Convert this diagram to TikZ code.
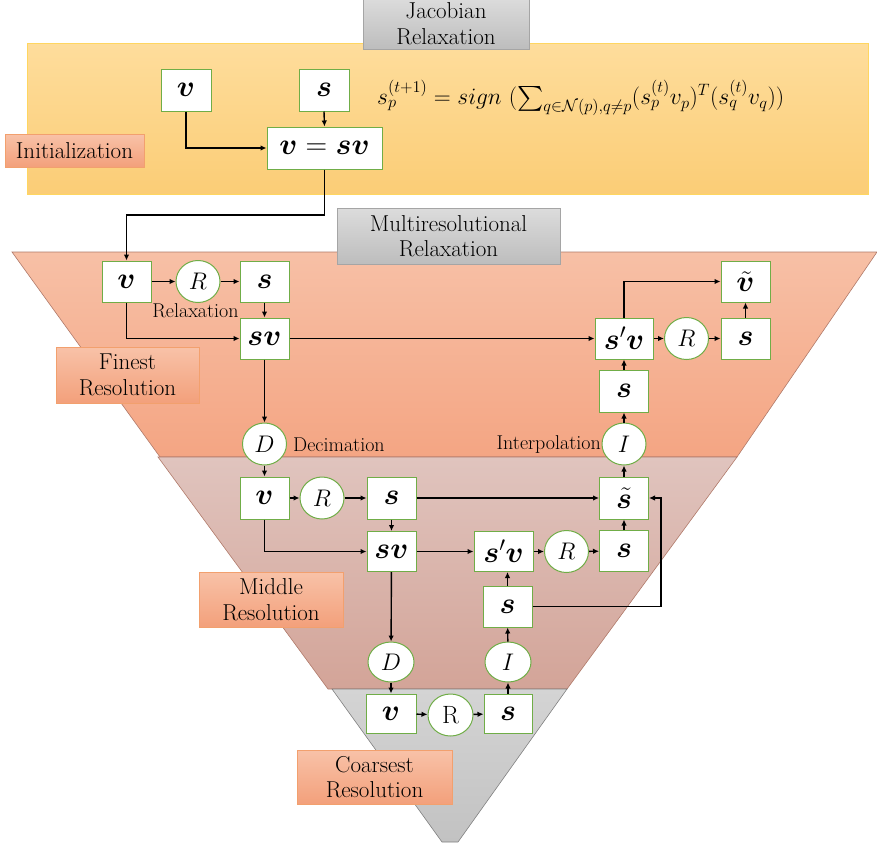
\RequirePackage{fix-cm}
\documentclass[tikz,border=0pt]{standalone}
\usepackage{amsmath}
\usepackage{bm}
\usepackage{fontspec}
\usetikzlibrary{arrows.meta,calc,shapes.geometric}

\definecolor{boxgreen}{HTML}{70AD47}
\definecolor{yeltop}{HTML}{FEDD9C}
\definecolor{yelbot}{HTML}{FBCD76}
\definecolor{yelline}{HTML}{FFD660}
\definecolor{grytop}{HTML}{DCDCDC}
\definecolor{grybot}{HTML}{BDBDBD}
\definecolor{gryline}{HTML}{A5A5A5}
\definecolor{labtop}{HTML}{F8C2A8}
\definecolor{labbot}{HTML}{F3A07B}
\definecolor{labline}{HTML}{F2A06E}
\definecolor{fintop}{HTML}{F7C0A6}
\definecolor{finbot}{HTML}{F4A583}
\definecolor{midtop}{HTML}{E0C4BE}
\definecolor{midbot}{HTML}{D3A498}
\definecolor{coatop}{HTML}{D4D4D4}
\definecolor{coabot}{HTML}{C2C2C2}
\definecolor{layline}{HTML}{B07A6A}

\newcommand{\labfont}{\fontsize{23}{25.5}\selectfont}
\newcommand{\smallfont}{\fontsize{20}{22}\selectfont}
\newcommand{\boxfont}{\fontsize{30}{32}\selectfont}
\newcommand{\circfont}{\fontsize{24}{26}\selectfont}

\begin{document}
\begin{tikzpicture}[x=1pt,y=-1pt,
  opbox/.style={rectangle,draw=boxgreen,fill=white,line width=1pt,inner sep=0pt,
    minimum width=49pt,minimum height=41pt,font=\boxfont},
  opcirc/.style={ellipse,draw=boxgreen,fill=white,line width=1pt,inner sep=0pt,
    minimum width=44pt,minimum height=42pt,font=\circfont},
  tagbox/.style={rectangle,draw=labline,line width=0.8pt,top color=labtop,bottom color=labbot,
    inner sep=0pt,align=center,font=\labfont},
  titlebox/.style={rectangle,draw=gryline,line width=0.8pt,top color=grytop,bottom color=grybot,
    inner sep=0pt,align=center,font=\labfont},
  note/.style={inner sep=0pt,font=\smallfont},
  arr/.style={-{Latex[length=6pt,width=5.5pt]},line width=1.4pt},
]
\useasboundingbox (0,0) rectangle (877,846);

% --- background panels ---
\path[draw=yelline,line width=0.8pt,top color=yeltop,bottom color=yelbot]
  (27,43) rectangle (868,194);
\path[draw=layline,line width=0.6pt,top color=fintop,bottom color=finbot]
  (12,252) -- (877,252) -- (737,457) -- (160,457) -- cycle;
\path[draw=layline,line width=0.6pt,top color=midtop,bottom color=midbot]
  (158,457) -- (737,457) -- (567,689) -- (328,689) -- cycle;
\path[draw=gray,line width=0.6pt,top color=coatop,bottom color=coabot]
  (332,689) -- (567,689) -- (458,842) -- (442,842) -- cycle;

% --- titles ---
\node[titlebox,minimum width=166pt,minimum height=51pt] (jac) at (446,23.5) {Jacobian\\Relaxation};
\node[titlebox,minimum width=223pt,minimum height=56pt] (mres) at (448.5,236) {Multiresolutional\\Relaxation};

% --- initialization ---
\node[tagbox,minimum width=139pt,minimum height=33pt] (init) at (74.5,150.5) {Initialization};
\node[opbox,minimum width=50pt,minimum height=42pt] (tv) at (186,90) {$\bm{v}$};
\node[opbox,minimum width=50pt,minimum height=42pt] (ts) at (324,90) {$\bm{s}$};
\node[opbox,minimum width=115pt,minimum height=42pt] (tvsv) at (324.5,148) {$\bm{v}=\bm{s}\bm{v}$};
\node[anchor=west,inner sep=0pt,font=\fontsize{23.5}{25}\selectfont] (eq) at (377,98)
  {$s_p^{(t+1)} = sign\ (\textstyle\sum_{q\in\mathcal{N}(p),q\neq p}(s_p^{(t)}v_p)^T(s_q^{(t)}v_q))$};

\draw[arr] (tv.south) |- (tvsv.west);
\draw[arr] (ts.south) -- (tvsv.north);

% --- finest resolution ---
\node[tagbox,minimum width=143pt,minimum height=56pt] (fine) at (127.5,375) {Finest\\Resolution};
\node[opbox] (fv) at (126.5,281.5) {$\bm{v}$};
\node[opcirc] (fR) at (198,281.5) {$R$};
\node[opbox] (fs) at (264.5,281.5) {$\bm{s}$};
\node[note] (relax) at (195.5,311) {Relaxation};
\node[opbox] (fsv) at (264.5,338.5) {$\bm{s}\bm{v}$};
\node[opcirc] (fD) at (264.5,444) {$D$};
\node[note,anchor=west] (decim) at (293,445) {Decimation};
\node[opbox,minimum width=58pt] (fspv) at (624,338.5) {$\bm{s}'\bm{v}$};
\node[opcirc] (fR2) at (686.5,338.5) {$R$};
\node[opbox] (fs2) at (745.5,338.5) {$\bm{s}$};
\node[opbox] (fvt) at (745.5,281.5) {$\tilde{\bm{v}}$};
\node[opbox,minimum height=42pt] (fs3) at (624,391) {$\bm{s}$};
\node[opcirc] (fI) at (624,444) {$I$};
\node[note,anchor=east] (interp) at (601,445) {Interpolation};

\coordinate (j1) at (126.5,215);
\draw[arr] (tvsv.south) |- (j1) -- (fv.north);
\draw[arr] (fv) -- (fR);
\draw[arr] (fR) -- (fs);
\draw[arr] (fs) -- (fsv);
\draw[arr] (fv.south) |- (fsv.west);
\draw[arr] (fsv) -- (fspv);
\draw[arr] (fsv) -- (fD);
\draw[arr] (fspv) -- (fR2);
\draw[arr] (fR2) -- (fs2);
\draw[arr] (fs2) -- (fvt);
\draw[arr] (fspv.north) |- (fvt.west);
\draw[arr] (fs3) -- (fspv);
\draw[arr] (fI) -- (fs3);

% --- middle resolution ---
\node[tagbox,minimum width=144pt,minimum height=55pt] (mid) at (271,599.5) {Middle\\Resolution};
\node[opbox,minimum height=42pt] (mv) at (264.5,498) {$\bm{v}$};
\node[opcirc] (mR) at (322,498) {$R$};
\node[opbox,minimum height=42pt] (ms) at (391.5,498) {$\bm{s}$};
\node[opbox,minimum height=42pt] (mst) at (624,498) {$\tilde{\bm{s}}$};
\node[opbox,minimum height=40pt] (msv) at (391.5,551.5) {$\bm{s}\bm{v}$};
\node[opbox,minimum width=59pt,minimum height=40pt] (mspv) at (503.5,551.5) {$\bm{s}'\bm{v}$};
\node[opcirc] (mR2) at (566.5,551.5) {$R$};
\node[opbox,minimum height=41pt] (ms2) at (624,551) {$\bm{s}$};
\node[opbox] (ms3) at (507.5,606.5) {$\bm{s}$};

\coordinate (mbend) at (661,498);
\draw[arr] (fD) -- (mv);
\draw[arr] (mv) -- (mR);
\draw[arr] (mR) -- (ms);
\draw[arr] (ms) -- (msv);
\draw[arr] (mv.south) |- (msv.west);
\draw[arr] (ms) -- (mst);
\draw[arr] (msv) -- (mspv);
\draw[arr] (mspv) -- (mR2);
\draw[arr] (mR2) -- (ms2);
\draw[arr] (ms2) -- (mst);
\draw[arr] (mst) -- (fI);
\draw[arr] (ms3.north) -- (ms3.north |- mspv.south);
\draw[arr] (ms3.east) -| (mbend) -- (mst.east);

% --- coarsest resolution ---
\node[tagbox,minimum width=155pt,minimum height=54pt] (coarse) at (374.5,777) {Coarsest\\Resolution};
\node[opcirc,minimum height=40pt,minimum width=46pt] (cD) at (391,662) {$D$};
\node[opcirc,minimum height=40pt,minimum width=46pt] (cI) at (508,662) {$I$};
\node[opbox,minimum width=50pt,minimum height=39pt] (cv) at (391,713.5) {$\bm{v}$};
\node[opcirc,minimum width=45pt,font=\fontsize{25}{27}\selectfont] (cR) at (450.5,715) {R};
\node[opbox,minimum width=48pt,minimum height=39pt] (cs) at (508,713.5) {$\bm{s}$};

\draw[arr] (msv) -- (cD);
\draw[arr] (cD) -- (cv);
\draw[arr] (cv) -- (cR);
\draw[arr] (cR) -- (cs);
\draw[arr] (cs) -- (cI);
\draw[arr] (cI) -- (ms3);
\end{tikzpicture}
\end{document}
